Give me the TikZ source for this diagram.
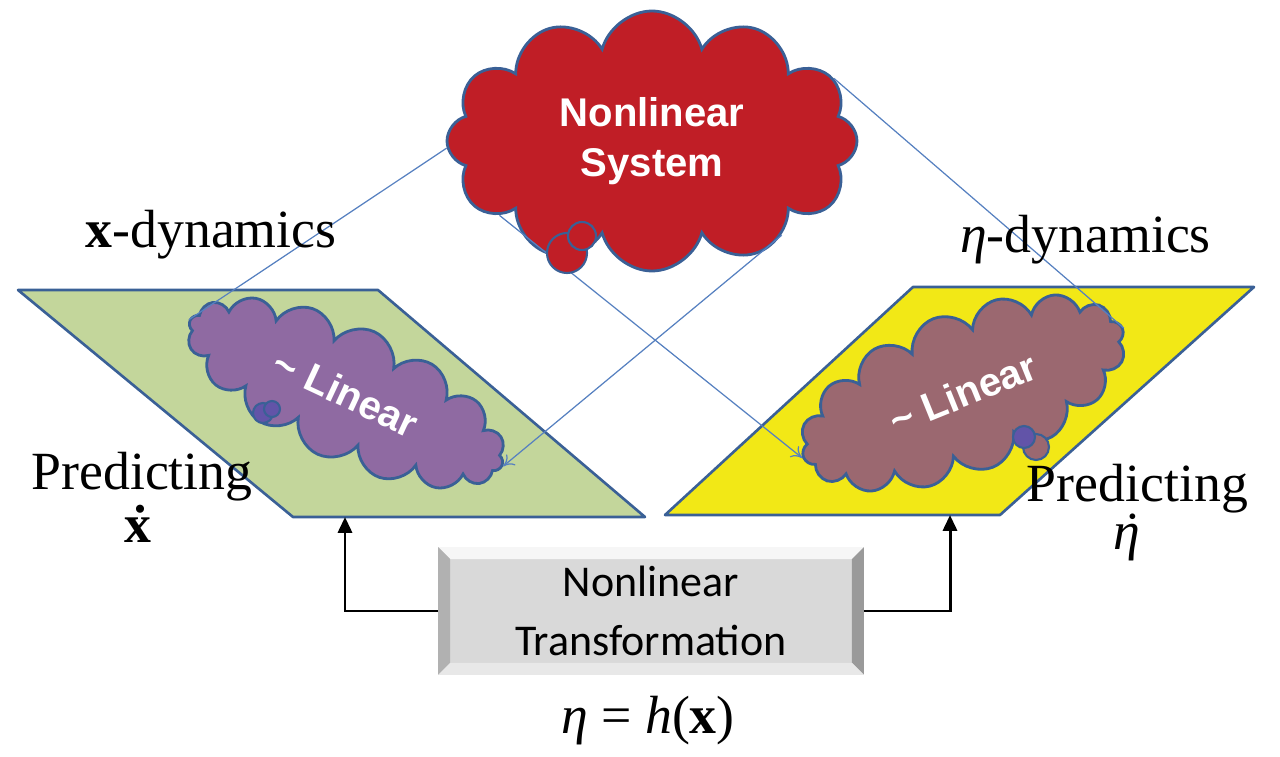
\documentclass[tikz,border=0pt]{standalone}
\usepackage{fontspec}
\setmainfont{Liberation Serif}
\newfontfamily\arialfont{Liberation Sans}
\newfontfamily\calfont{Carlito}
\usetikzlibrary{shapes.symbols,arrows.meta}

\definecolor{edgeblue}{RGB}{58,96,150}
\definecolor{linkblue}{RGB}{86,128,192}
\definecolor{sysred}{RGB}{192,30,38}
\definecolor{planegreen}{RGB}{195,214,155}
\definecolor{planeyellow}{RGB}{242,232,22}
\definecolor{linpurple}{RGB}{143,106,162}
\definecolor{linbrown}{RGB}{155,104,112}
\definecolor{bubblue}{RGB}{98,84,168}
\definecolor{boxgray}{RGB}{217,217,217}

\newcommand{\dotted}[1]{\ooalign{#1\cr\hidewidth\kern0.08em˙\hidewidth\cr}}

\tikzset{
  plane/.style={draw=edgeblue, line width=1.5pt, line join=round},
  puff/.style={cloud, cloud puffs=#1, cloud ignores aspect, draw=edgeblue, line width=1.6pt,
    inner sep=0pt, text=white, align=center, font=\arialfont\bfseries\fontsize{22.8}{28.5}\selectfont},
  bubble/.style={draw=edgeblue, line width=1.2pt},
  link/.style={draw=linkblue, line width=0.7pt},
  linkarrow/.style={link, -{To[length=6pt,width=8pt]}},
  feed/.style={line width=1.7pt, -{Triangle[length=9pt,width=8pt]}},
  lbl/.style={anchor=base, font=\fontsize{30.6}{36}\selectfont},
  bevel/.style={fill=boxgray, minimum width=8.5cm, minimum height=2.54cm, inner sep=0pt,
    align=center, font=\calfont\fontsize{25}{33.6}\selectfont}
}

\begin{document}
\begin{tikzpicture}
	\useasboundingbox (0,0) rectangle (25.6,15.12);

	%planes
	\filldraw[plane, fill=planegreen] (0.36,9.32) -- (7.56,9.32) -- (12.9,4.78) -- (5.86,4.78) -- cycle;
	\filldraw[plane, fill=planeyellow] (18.26,9.38) -- (25.08,9.38) -- (20.0,4.82) -- (13.3,4.82) -- cycle;

	%linear clouds
	\node[puff=16, fill=linpurple, minimum width=6.88cm, minimum height=2.7cm, rotate=-25] (lin1) at (6.92,7.26) {\textasciitilde{} Linear};
	\node[puff=16, fill=linbrown, minimum width=6.88cm, minimum height=3.2cm, rotate=22] (lin2) at (19.26,7.26) {\textasciitilde{} Linear};
	\filldraw[bubble, fill=bubblue] (5.26,6.86) circle (0.2);
	\filldraw[bubble, fill=bubblue] (5.44,6.94) circle (0.16);
	\filldraw[bubble, fill=linbrown] (20.72,6.18) circle (0.26);
	\filldraw[bubble, fill=bubblue] (20.48,6.38) circle (0.22);

	%nonlinear system
	\node[puff=12, fill=sysred, minimum width=8.2cm, minimum height=5.2cm] (sys) at (13.04,12.3) {Nonlinear\\System};

	%thin links
	\draw[link] (sys.182) -- (lin1.west);
	\draw[linkarrow] (sys.206) -- (lin2.west);
	\draw[linkarrow] (sys.324) -- (lin1.east);
	\draw[link] (sys.19) -- (lin2.east);

	\filldraw[bubble, fill=sysred] (11.34,10.06) circle (0.4);
	\filldraw[bubble, fill=sysred] (11.64,10.4) circle (0.28);

	%transformation box
	\node[bevel] (tr) at (13.02,2.90) {Nonlinear\\Transformation};
	\fill[white!75!boxgray] (tr.north west) -- (tr.north east) -- ([shift={(-.24,-.24)}]tr.north east) -- ([shift={(.24,-.24)}]tr.north west) -- cycle;
	\fill[gray!45!boxgray] (tr.north west) -- ([shift={(.24,-.24)}]tr.north west) -- ([shift={(.24,.24)}]tr.south west) -- (tr.south west) -- cycle;
	\fill[gray!70!boxgray] (tr.north east) -- ([shift={(-.24,-.24)}]tr.north east) -- ([shift={(-.24,.24)}]tr.south east) -- (tr.south east) -- cycle;
	\fill[white!40!boxgray] (tr.south west) -- ([shift={(.24,.24)}]tr.south west) -- ([shift={(-.24,.24)}]tr.south east) -- (tr.south east) -- cycle;

	\coordinate (gbot) at (6.9,4.78);
	\coordinate (ybot) at (19.0,4.82);
	\draw[feed] (tr.west) -| (gbot);
	\draw[feed] (tr.east) -| (ybot);

	%labels
	\node[lbl] (xdyn) at (4.22,10.16) {\textbf{x}-dynamics};
	\node[lbl] (edyn) at (21.71,10.06) {\textit{η}-dynamics};
	\node[lbl] (predx) at (2.84,5.32) {Predicting};
	\node[lbl] (xdot) at (2.76,4.28) {\bfseries\dotted{x}};
	\node[lbl] (prede) at (22.75,5.08) {Predicting};
	\node[lbl] (edot) at (22.54,4.12) {\itshape\dotted{η}};
	\node[lbl] (hmap) at (12.96,0.46) {\textit{η} = \textit{h}(\textbf{x})};
\end{tikzpicture}
\end{document}
